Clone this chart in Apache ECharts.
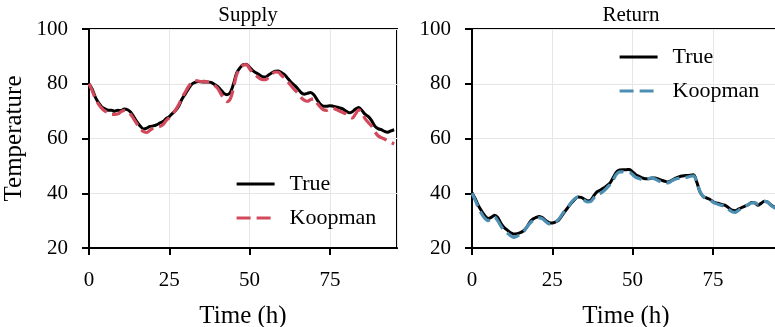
<!DOCTYPE html>
<html>
<head>
<meta charset="utf-8">
<script src="https://cdn.jsdelivr.net/npm/echarts@6/dist/echarts.min.js"></script>
<style>
html,body{margin:0;padding:0;background:#fff;}
#chart{width:775px;height:327px;}
</style>
</head>
<body>
<div id="chart"></div>
<script>
const hours = Array.from({length: 96}, (_, i) => i);
const xTicks = [0, 25, 50, 75];
const yTicks = [20, 40, 60, 80, 100];
const panelTitles = ['Supply', 'Return'];

const supplyTrue = [80.0,78,75,73,71.5,70.8,70.3,70.3,70,70.3,70.2,70.8,70.5,69.6,67.8,66,64.5,63.5,63.8,64.4,
64.6,65,65.6,66.2,67.2,68,69.2,70.3,72,74.5,76.3,78.2,79.8,80.5,80.8,80.7,80.6,80.6,80.5,79.8,
79,77.8,76.5,76,76.8,80,84,85.8,87,87.1,86,84.8,84,83.3,82.6,82.5,83.3,84,84.6,84.7,
84,83.2,81.8,80.4,79.4,78.2,76.8,76.2,76.5,76.8,76,74.2,72.6,71.8,71.8,72,71.8,71.5,71.2,70.8,
70,69.4,69.8,70.8,71.3,70.2,68.8,68,66.5,64.5,63.6,63.2,62.6,62.3,62.8,63.2];

const supplyKoopman = [80,77.5,74.5,72.5,71,70,69.5,68.8,68.8,69,69.8,70.3,70,68.8,67,65.2,63.5,62.5,62.2,63,
63.8,64.2,64.4,65,66.5,67.6,69,70.5,72.5,75,77,79,80.5,81.2,81,80.8,80.9,80.6,80.2,79.5,
78.4,76.5,74.5,73.5,74.5,78.5,83.5,85.5,86.8,87,85.5,84,83,82,81.5,81.5,82.5,83.6,84.3,84.2,
83,82,80.6,79.2,77.8,76.6,75,74,73.6,74.2,74.5,73,71.5,70.5,70.3,70.8,71,70.6,70,69.5,
69,68,67.5,69,70.5,69.3,67.2,65.8,64.5,62.5,61,60.3,59.8,59.2,58.6,58];

const returnTrue = [40.2,38,35.5,33.5,31.8,30.8,31.2,32,31.2,29,27.5,26.5,25.6,25.1,25.2,25.6,26.2,27.5,29.4,30.6,
31.2,31.5,31,30,29.3,29.1,29.5,30.2,31.8,33.5,35,36.5,37.8,38.6,38.5,37.8,37.2,37.5,39.2,40.6,
41.2,41.9,42.8,43.8,45.8,47.8,48.5,48.6,48.6,48.7,47.8,46.8,46.2,45.6,45.3,45.3,45.6,45.6,45.2,44.8,
44.4,44.1,44.6,45.3,45.8,46.2,46.4,46.5,46.6,46.8,44,40.5,38.8,38.3,37.8,37,36.5,36.2,35.8,35.5,
34.6,33.8,33.6,34.2,34.8,35.3,35.8,36.6,36.5,35.6,36.3,37.1,36.8,35.8,35,34.6];

const returnKoopman = [40,37.5,34.8,32.5,30.8,30,30.8,31.3,30,28,26.5,25.5,24.5,23.9,24.3,25,25.8,27.5,29,30,
30.6,31,30.6,29.6,28.8,28.8,29.4,30.5,32.2,33.8,35.2,36.8,38,38.6,38.2,37.4,36.8,37,38.4,39.5,
40,40.8,42,43.2,45,47,47.8,47.8,47.5,47.6,46.8,45.8,45.4,45,45.2,45.4,45.6,45.2,44.6,44.2,
44,43.8,44.4,45,45.4,45.6,45.7,45.9,46.2,46.4,44,40.6,38.8,38.3,37.6,36.8,36.2,35.8,35.5,35,
34,33.2,33,33.8,34.6,35.2,35.8,36.4,36.6,36,36.5,37,36.8,35.7,34.8,34.3];

const FONT = '"Liberation Serif", "Times New Roman", serif';
const RED = '#d1495b';
const BLUE = '#4d8fb3';

const pair = (xs, ys) => xs.map((x, i) => [x, ys[i]]);

function xAxis(gi) {
  return {
    type: 'value', gridIndex: gi, min: 0, max: 95.9, interval: 25,
    name: 'Time (h)', nameLocation: 'middle', nameGap: 56,
    nameTextStyle: {fontFamily: FONT, fontSize: 25, color: '#000'},
    axisLine: {show: true, lineStyle: {color: '#000', width: 2}},
    axisTick: {show: true, length: 7, lineStyle: {color: '#000', width: 2}},
    axisLabel: {fontFamily: FONT, fontSize: 21, color: '#000', margin: 22, showMaxLabel: false,
      formatter: v => xTicks.includes(v) ? String(v) : ''},
    splitLine: {show: true, lineStyle: {color: '#e6e6e6', width: 1}}
  };
}
function yAxis(gi, withName) {
  return {
    type: 'value', gridIndex: gi, min: 20, max: 100, interval: 20,
    name: withName ? 'Temperature' : '', nameLocation: 'middle', nameGap: 62,
    nameTextStyle: {fontFamily: FONT, fontSize: 25, color: '#000'},
    axisLine: {show: true, lineStyle: {color: '#000', width: 2}},
    axisTick: {show: true, length: 7, lineStyle: {color: '#000', width: 2}},
    axisLabel: {fontFamily: FONT, fontSize: 21, color: '#000', margin: 21,
      formatter: v => yTicks.includes(v) ? String(v) : ''},
    splitLine: {show: true, lineStyle: {color: '#e6e6e6', width: 1}}
  };
}

const legendBase = {
  orient: 'vertical', itemWidth: 38, itemHeight: 14, itemGap: 12, padding: 0,
  itemStyle: {color: 'transparent', borderWidth: 0, opacity: 0},
  lineStyle: {width: 3.2},
  textStyle: {fontFamily: FONT, fontSize: 22, color: '#000', padding: [0, 0, 0, 10]}
};

const chart = echarts.init(document.getElementById('chart'), null, {renderer: 'canvas'});
chart.setOption({
  animation: false,
  backgroundColor: '#fff',
  title: [
    {text: panelTitles[0], left: 243, top: 0, textAlign: 'center',
     textStyle: {fontFamily: FONT, fontSize: 21, fontWeight: 'normal', color: '#000'}},
    {text: panelTitles[1], left: 626, top: 0, textAlign: 'center',
     textStyle: {fontFamily: FONT, fontSize: 21, fontWeight: 'normal', color: '#000'}}
  ],
  grid: [
    {left: 89, top: 29, width: 308, height: 219, show: true, borderColor: '#000', borderWidth: 2,
     backgroundColor: 'transparent', containLabel: false, outerBoundsMode: 'none'},
    {left: 472, top: 29, width: 308, height: 219, show: true, borderColor: '#000', borderWidth: 2,
     backgroundColor: 'transparent', containLabel: false, outerBoundsMode: 'none'}
  ],
  xAxis: [xAxis(0), xAxis(1)],
  yAxis: [yAxis(0, true), yAxis(1, false)],
  legend: [
    Object.assign({data: ['True', 'Koopman'], left: 235, top: 173}, legendBase),
    Object.assign({data: ['True ', 'Koopman '], left: 618, top: 46}, legendBase)
  ],
  series: [
    {name: 'True', type: 'line', xAxisIndex: 0, yAxisIndex: 0, data: pair(hours, supplyTrue), smooth: 0.3,
     showSymbol: false, symbol: 'none', lineStyle: {color: '#000', width: 3}, itemStyle: {color: '#000'}, z: 2},
    {name: 'Koopman', type: 'line', xAxisIndex: 0, yAxisIndex: 0, data: pair(hours, supplyKoopman), smooth: 0.3,
     showSymbol: false, symbol: 'none', lineStyle: {color: RED, width: 3.2, type: [14, 6]}, itemStyle: {color: RED}, z: 3},
    {name: 'True ', type: 'line', xAxisIndex: 1, yAxisIndex: 1, data: pair(hours, returnTrue), smooth: 0.3,
     showSymbol: false, symbol: 'none', lineStyle: {color: '#000', width: 3}, itemStyle: {color: '#000'}, z: 2},
    {name: 'Koopman ', type: 'line', xAxisIndex: 1, yAxisIndex: 1, data: pair(hours, returnKoopman), smooth: 0.3,
     showSymbol: false, symbol: 'none', lineStyle: {color: BLUE, width: 3.2, type: [14, 6]}, itemStyle: {color: BLUE}, z: 3}
  ]
});
</script>
</body>
</html>
